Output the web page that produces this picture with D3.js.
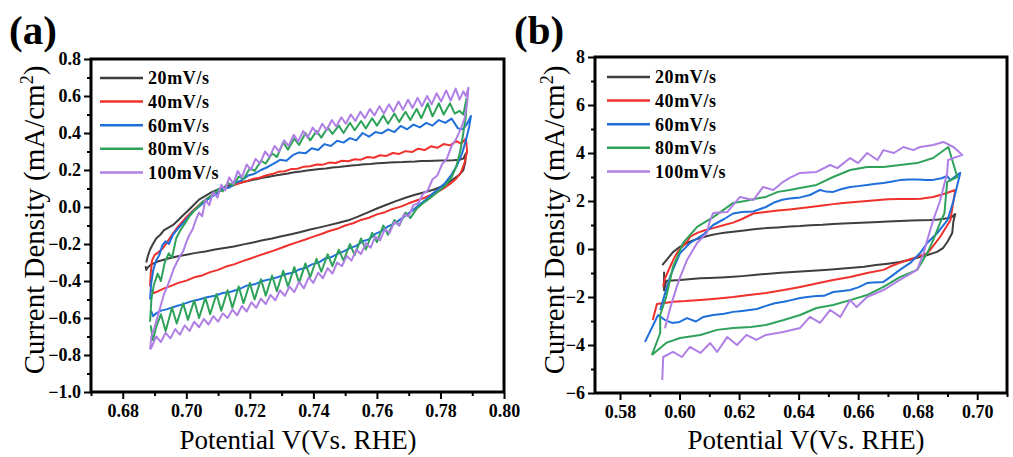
<!DOCTYPE html>
<html>
<head>
<meta charset="utf-8">
<script src="https://cdn.jsdelivr.net/npm/d3@7"></script>
<style>
  body { margin: 0; background: #fff; }
  svg { display: block; }
  text { font-family: "Liberation Serif", "Times New Roman", serif; fill: #000; }
</style>
</head>
<body>
<svg id="fig" width="1013" height="457"></svg>
<script>
// Scan-rate series shared by both panels
const seriesNames = ["20mV/s", "40mV/s", "60mV/s", "80mV/s", "100mV/s"];
const seriesColors = ["#3e3e3e", "#f0302c", "#1f6fdb", "#2fa25a", "#b07fe6"];

// Axis ticks
const aXTicks = [0.68, 0.70, 0.72, 0.74, 0.76, 0.78, 0.80];
const aXMinor = [0.67, 0.69, 0.71, 0.73, 0.75, 0.77, 0.79];
const aYTicks = [-1.0, -0.8, -0.6, -0.4, -0.2, 0.0, 0.2, 0.4, 0.6, 0.8];
const aYMinor = [-0.9, -0.7, -0.5, -0.3, -0.1, 0.1, 0.3, 0.5, 0.7];
const bXTicks = [0.58, 0.60, 0.62, 0.64, 0.66, 0.68, 0.70];
const bXMinor = [0.59, 0.61, 0.63, 0.65, 0.67, 0.69, 0.71];
const bYTicks = [-6, -4, -2, 0, 2, 4, 6, 8];
const bYMinor = [-5, -3, -1, 1, 3, 5, 7];

// Panel (a): cyclic voltammograms, [potential V, current density mA/cm2]
const a20 = [[0.6874,-0.300],[0.6878,-0.270],[0.6886,-0.230],[0.6895,-0.200],[0.6905,-0.170],[0.6918,-0.150],[0.6930,-0.125],[0.6945,-0.110],[0.6960,-0.095],[0.6975,-0.070],[0.6990,-0.045],[0.7005,-0.020],[0.7020,0.005],[0.7040,0.040],[0.7060,0.060],[0.7080,0.080],[0.7100,0.095],[0.7120,0.108],[0.7140,0.120],[0.7160,0.128],[0.7180,0.135],[0.7200,0.143],[0.7220,0.150],[0.7240,0.158],[0.7260,0.163],[0.7280,0.170],[0.7300,0.176],[0.7320,0.181],[0.7340,0.188],[0.7360,0.192],[0.7380,0.197],[0.7400,0.201],[0.7420,0.205],[0.7440,0.208],[0.7460,0.213],[0.7480,0.216],[0.7500,0.220],[0.7520,0.224],[0.7540,0.227],[0.7560,0.231],[0.7580,0.233],[0.7600,0.236],[0.7620,0.238],[0.7640,0.240],[0.7660,0.242],[0.7680,0.243],[0.7700,0.245],[0.7720,0.246],[0.7740,0.248],[0.7760,0.249],[0.7780,0.250],[0.7800,0.251],[0.7820,0.252],[0.7840,0.253],[0.7860,0.255],[0.7872,0.262],[0.7880,0.290],[0.7878,0.240],[0.7872,0.200],[0.7860,0.175],[0.7840,0.150],[0.7820,0.125],[0.7800,0.108],[0.7780,0.095],[0.7750,0.080],[0.7720,0.066],[0.7690,0.050],[0.7660,0.032],[0.7630,0.012],[0.7600,-0.008],[0.7570,-0.030],[0.7540,-0.052],[0.7510,-0.072],[0.7480,-0.085],[0.7450,-0.098],[0.7420,-0.110],[0.7390,-0.122],[0.7360,-0.135],[0.7330,-0.147],[0.7300,-0.158],[0.7270,-0.170],[0.7240,-0.180],[0.7210,-0.192],[0.7180,-0.202],[0.7150,-0.213],[0.7120,-0.222],[0.7090,-0.230],[0.7060,-0.240],[0.7030,-0.248],[0.7000,-0.258],[0.6970,-0.268],[0.6940,-0.280],[0.6910,-0.295],[0.6890,-0.310],[0.6878,-0.328],[0.6874,-0.340],[0.6872,-0.320]];

const a40 = [[0.6886,-0.430],[0.6888,-0.360],[0.6892,-0.290],[0.6900,-0.260],[0.6912,-0.245],[0.6925,-0.225],[0.6940,-0.190],[0.6955,-0.150],[0.6970,-0.115],[0.6985,-0.085],[0.7000,-0.055],[0.7015,-0.030],[0.7030,-0.005],[0.7050,0.025],[0.7070,0.050],[0.7090,0.070],[0.7110,0.090],[0.7130,0.105],[0.7150,0.118],[0.7170,0.130],[0.7190,0.140],[0.7210,0.152],[0.7230,0.158],[0.7250,0.170],[0.7270,0.178],[0.7290,0.190],[0.7310,0.193],[0.7330,0.205],[0.7350,0.207],[0.7370,0.218],[0.7390,0.220],[0.7410,0.230],[0.7430,0.229],[0.7450,0.240],[0.7470,0.238],[0.7490,0.250],[0.7510,0.247],[0.7530,0.258],[0.7550,0.256],[0.7570,0.270],[0.7590,0.266],[0.7610,0.280],[0.7630,0.276],[0.7650,0.292],[0.7670,0.287],[0.7690,0.302],[0.7710,0.297],[0.7730,0.315],[0.7750,0.308],[0.7770,0.328],[0.7790,0.320],[0.7810,0.340],[0.7830,0.333],[0.7850,0.356],[0.7865,0.342],[0.7880,0.370],[0.7884,0.300],[0.7876,0.240],[0.7864,0.185],[0.7848,0.150],[0.7830,0.125],[0.7810,0.100],[0.7790,0.080],[0.7770,0.065],[0.7750,0.050],[0.7725,0.035],[0.7700,0.020],[0.7675,0.002],[0.7650,-0.010],[0.7625,-0.028],[0.7600,-0.040],[0.7575,-0.058],[0.7550,-0.070],[0.7525,-0.088],[0.7500,-0.100],[0.7475,-0.118],[0.7450,-0.130],[0.7425,-0.146],[0.7400,-0.160],[0.7375,-0.176],[0.7350,-0.190],[0.7325,-0.204],[0.7300,-0.220],[0.7275,-0.236],[0.7250,-0.250],[0.7225,-0.264],[0.7200,-0.280],[0.7175,-0.294],[0.7150,-0.310],[0.7125,-0.322],[0.7100,-0.340],[0.7075,-0.352],[0.7050,-0.370],[0.7025,-0.380],[0.7000,-0.398],[0.6975,-0.410],[0.6950,-0.428],[0.6930,-0.440],[0.6912,-0.455],[0.6898,-0.465],[0.6889,-0.450]];

const a60 = [[0.6886,-0.500],[0.6889,-0.420],[0.6896,-0.340],[0.6905,-0.290],[0.6915,-0.260],[0.6925,-0.205],[0.6935,-0.185],[0.6945,-0.200],[0.6958,-0.150],[0.6972,-0.120],[0.6988,-0.090],[0.7003,-0.060],[0.7018,-0.030],[0.7035,-0.005],[0.7055,0.025],[0.7075,0.050],[0.7095,0.072],[0.7115,0.098],[0.7135,0.105],[0.7155,0.130],[0.7175,0.145],[0.7195,0.170],[0.7215,0.180],[0.7235,0.200],[0.7255,0.215],[0.7275,0.235],[0.7295,0.255],[0.7315,0.250],[0.7335,0.280],[0.7355,0.295],[0.7375,0.290],[0.7395,0.318],[0.7415,0.308],[0.7435,0.340],[0.7455,0.330],[0.7475,0.358],[0.7495,0.348],[0.7515,0.372],[0.7535,0.360],[0.7555,0.400],[0.7575,0.380],[0.7595,0.405],[0.7615,0.398],[0.7635,0.420],[0.7655,0.405],[0.7675,0.438],[0.7695,0.420],[0.7715,0.445],[0.7735,0.430],[0.7755,0.455],[0.7775,0.440],[0.7795,0.470],[0.7815,0.455],[0.7835,0.478],[0.7855,0.425],[0.7870,0.420],[0.7882,0.445],[0.7896,0.492],[0.7890,0.430],[0.7880,0.360],[0.7868,0.290],[0.7852,0.225],[0.7835,0.175],[0.7815,0.130],[0.7795,0.100],[0.7775,0.072],[0.7755,0.040],[0.7735,0.015],[0.7715,-0.015],[0.7695,-0.040],[0.7675,-0.065],[0.7655,-0.090],[0.7635,-0.105],[0.7615,-0.130],[0.7595,-0.145],[0.7575,-0.175],[0.7555,-0.185],[0.7535,-0.210],[0.7515,-0.222],[0.7495,-0.240],[0.7475,-0.255],[0.7455,-0.272],[0.7435,-0.280],[0.7415,-0.302],[0.7395,-0.310],[0.7375,-0.330],[0.7355,-0.338],[0.7335,-0.355],[0.7315,-0.362],[0.7290,-0.378],[0.7265,-0.390],[0.7240,-0.400],[0.7215,-0.418],[0.7190,-0.425],[0.7165,-0.445],[0.7140,-0.458],[0.7115,-0.465],[0.7090,-0.480],[0.7065,-0.488],[0.7040,-0.500],[0.7015,-0.510],[0.6990,-0.525],[0.6965,-0.538],[0.6940,-0.552],[0.6920,-0.560],[0.6905,-0.575],[0.6895,-0.590],[0.6889,-0.560]];

const a80 = [[0.6886,-0.620],[0.6890,-0.500],[0.6898,-0.420],[0.6910,-0.360],[0.6920,-0.400],[0.6932,-0.300],[0.6945,-0.250],[0.6955,-0.275],[0.6968,-0.170],[0.6980,-0.130],[0.6995,-0.090],[0.7010,-0.050],[0.7030,-0.010],[0.7050,0.025],[0.7068,0.050],[0.7085,0.070],[0.7100,0.095],[0.7115,0.085],[0.7130,0.130],[0.7148,0.115],[0.7165,0.165],[0.7180,0.150],[0.7200,0.210],[0.7215,0.195],[0.7235,0.250],[0.7250,0.235],[0.7270,0.290],[0.7285,0.270],[0.7305,0.350],[0.7320,0.310],[0.7340,0.370],[0.7355,0.335],[0.7375,0.400],[0.7390,0.360],[0.7410,0.410],[0.7425,0.375],[0.7445,0.430],[0.7460,0.395],[0.7480,0.440],[0.7495,0.400],[0.7515,0.455],[0.7530,0.415],[0.7550,0.465],[0.7565,0.425],[0.7585,0.480],[0.7600,0.440],[0.7620,0.495],[0.7635,0.450],[0.7655,0.505],[0.7670,0.460],[0.7690,0.515],[0.7705,0.470],[0.7725,0.530],[0.7740,0.480],[0.7760,0.560],[0.7775,0.490],[0.7795,0.560],[0.7810,0.500],[0.7830,0.560],[0.7845,0.505],[0.7860,0.520],[0.7872,0.500],[0.7882,0.585],[0.7880,0.490],[0.7872,0.400],[0.7862,0.300],[0.7850,0.220],[0.7835,0.160],[0.7815,0.115],[0.7790,0.080],[0.7765,0.045],[0.7745,0.020],[0.7725,-0.010],[0.7705,-0.060],[0.7690,-0.030],[0.7670,-0.100],[0.7655,-0.070],[0.7635,-0.150],[0.7620,-0.100],[0.7600,-0.190],[0.7585,-0.140],[0.7565,-0.230],[0.7550,-0.170],[0.7530,-0.260],[0.7515,-0.200],[0.7495,-0.290],[0.7480,-0.230],[0.7460,-0.320],[0.7445,-0.255],[0.7425,-0.350],[0.7410,-0.280],[0.7390,-0.380],[0.7375,-0.305],[0.7355,-0.410],[0.7340,-0.325],[0.7320,-0.430],[0.7305,-0.345],[0.7285,-0.455],[0.7270,-0.370],[0.7250,-0.480],[0.7235,-0.390],[0.7215,-0.500],[0.7200,-0.410],[0.7180,-0.520],[0.7165,-0.430],[0.7145,-0.545],[0.7130,-0.450],[0.7110,-0.560],[0.7095,-0.470],[0.7075,-0.580],[0.7060,-0.490],[0.7040,-0.600],[0.7025,-0.505],[0.7005,-0.610],[0.6990,-0.520],[0.6970,-0.630],[0.6955,-0.545],[0.6935,-0.670],[0.6920,-0.580],[0.6905,-0.650],[0.6895,-0.720],[0.6888,-0.640]];

const a100 = [[0.6886,-0.770],[0.6890,-0.700],[0.6900,-0.650],[0.6910,-0.590],[0.6920,-0.530],[0.6930,-0.470],[0.6940,-0.430],[0.6950,-0.385],[0.6960,-0.335],[0.6970,-0.300],[0.6980,-0.265],[0.6990,-0.240],[0.7000,-0.190],[0.7010,-0.150],[0.7020,-0.120],[0.7030,-0.070],[0.7040,-0.030],[0.7050,-0.050],[0.7060,0.040],[0.7072,0.010],[0.7085,0.080],[0.7098,0.050],[0.7110,0.120],[0.7122,0.090],[0.7135,0.160],[0.7148,0.125],[0.7162,0.195],[0.7175,0.160],[0.7190,0.230],[0.7203,0.200],[0.7218,0.260],[0.7232,0.235],[0.7248,0.300],[0.7262,0.270],[0.7278,0.330],[0.7292,0.300],[0.7308,0.360],[0.7322,0.330],[0.7338,0.390],[0.7352,0.355],[0.7368,0.410],[0.7382,0.375],[0.7398,0.430],[0.7412,0.395],[0.7428,0.450],[0.7442,0.415],[0.7458,0.470],[0.7472,0.435],[0.7488,0.485],[0.7502,0.450],[0.7518,0.500],[0.7532,0.465],[0.7548,0.515],[0.7562,0.480],[0.7578,0.530],[0.7592,0.495],[0.7608,0.545],[0.7622,0.505],[0.7638,0.555],[0.7652,0.515],[0.7668,0.570],[0.7682,0.525],[0.7698,0.580],[0.7712,0.535],[0.7728,0.590],[0.7742,0.545],[0.7758,0.600],[0.7772,0.555],[0.7788,0.615],[0.7802,0.570],[0.7818,0.630],[0.7832,0.575],[0.7848,0.640],[0.7860,0.580],[0.7872,0.625],[0.7880,0.600],[0.7888,0.645],[0.7884,0.560],[0.7876,0.480],[0.7866,0.430],[0.7850,0.370],[0.7835,0.330],[0.7820,0.260],[0.7805,0.230],[0.7790,0.170],[0.7775,0.150],[0.7760,0.090],[0.7745,0.070],[0.7730,0.020],[0.7715,0.010],[0.7700,-0.050],[0.7685,-0.040],[0.7670,-0.100],[0.7655,-0.080],[0.7640,-0.140],[0.7625,-0.120],[0.7610,-0.180],[0.7595,-0.160],[0.7580,-0.220],[0.7565,-0.195],[0.7550,-0.255],[0.7535,-0.230],[0.7520,-0.290],[0.7505,-0.265],[0.7490,-0.320],[0.7475,-0.300],[0.7460,-0.360],[0.7445,-0.330],[0.7430,-0.385],[0.7415,-0.355],[0.7400,-0.410],[0.7385,-0.380],[0.7370,-0.440],[0.7355,-0.405],[0.7340,-0.460],[0.7325,-0.430],[0.7310,-0.480],[0.7295,-0.450],[0.7280,-0.505],[0.7265,-0.475],[0.7250,-0.525],[0.7235,-0.495],[0.7220,-0.545],[0.7205,-0.515],[0.7190,-0.565],[0.7175,-0.535],[0.7160,-0.585],[0.7145,-0.555],[0.7130,-0.600],[0.7115,-0.575],[0.7100,-0.620],[0.7085,-0.590],[0.7070,-0.635],[0.7055,-0.605],[0.7040,-0.650],[0.7025,-0.620],[0.7010,-0.670],[0.6995,-0.640],[0.6980,-0.690],[0.6965,-0.660],[0.6950,-0.710],[0.6935,-0.680],[0.6920,-0.730],[0.6905,-0.700],[0.6890,-0.760],[0.6886,-0.770]];

// Panel (b): cyclic voltammograms, [potential V, current density mA/cm2]
const b20 = [[0.5942,-0.670],[0.5960,-0.400],[0.5978,-0.130],[0.6000,0.080],[0.6025,0.250],[0.6050,0.380],[0.6070,0.460],[0.6100,0.560],[0.6126,0.630],[0.6150,0.680],[0.6180,0.720],[0.6210,0.760],[0.6250,0.820],[0.6290,0.870],[0.6330,0.900],[0.6370,0.940],[0.6405,0.960],[0.6440,0.990],[0.6480,1.010],[0.6516,1.040],[0.6550,1.060],[0.6590,1.080],[0.6630,1.100],[0.6670,1.130],[0.6700,1.150],[0.6740,1.170],[0.6780,1.190],[0.6810,1.200],[0.6842,1.210],[0.6870,1.230],[0.6900,1.280],[0.6915,1.330],[0.6926,1.460],[0.6920,1.150],[0.6916,0.670],[0.6900,0.300],[0.6886,0.050],[0.6865,-0.120],[0.6830,-0.260],[0.6798,-0.370],[0.6770,-0.460],[0.6740,-0.540],[0.6700,-0.610],[0.6660,-0.670],[0.6620,-0.740],[0.6580,-0.780],[0.6540,-0.820],[0.6500,-0.860],[0.6460,-0.900],[0.6420,-0.930],[0.6380,-0.960],[0.6340,-0.990],[0.6290,-1.040],[0.6250,-1.080],[0.6210,-1.130],[0.6180,-1.160],[0.6140,-1.190],[0.6100,-1.210],[0.6070,-1.220],[0.6040,-1.250],[0.6002,-1.290],[0.5975,-1.310],[0.5955,-1.320],[0.5948,-1.720],[0.5948,-0.950]];

const b40 = [[0.5945,-1.580],[0.5950,-1.250],[0.5968,-0.750],[0.5985,-0.300],[0.5998,-0.040],[0.6025,0.290],[0.6035,0.500],[0.6059,0.670],[0.6085,0.780],[0.6113,0.870],[0.6150,1.000],[0.6180,1.100],[0.6210,1.250],[0.6248,1.480],[0.6290,1.540],[0.6330,1.600],[0.6370,1.650],[0.6405,1.700],[0.6440,1.750],[0.6480,1.810],[0.6516,1.870],[0.6550,1.920],[0.6590,1.960],[0.6630,2.000],[0.6670,2.040],[0.6700,2.070],[0.6740,2.080],[0.6780,2.080],[0.6810,2.090],[0.6852,2.170],[0.6890,2.300],[0.6926,2.460],[0.6910,1.200],[0.6875,0.500],[0.6842,-0.040],[0.6832,-0.170],[0.6798,-0.330],[0.6770,-0.450],[0.6740,-0.580],[0.6710,-0.720],[0.6685,-0.870],[0.6630,-1.000],[0.6573,-1.170],[0.6516,-1.290],[0.6460,-1.440],[0.6405,-1.580],[0.6350,-1.710],[0.6290,-1.830],[0.6240,-1.910],[0.6180,-2.000],[0.6130,-2.060],[0.6070,-2.120],[0.6020,-2.170],[0.5978,-2.200],[0.5950,-2.250],[0.5924,-2.290],[0.5910,-2.960]];

const b60 = [[0.5935,-2.540],[0.5950,-1.900],[0.5970,-1.100],[0.5990,-0.500],[0.6002,-0.170],[0.6035,0.250],[0.6080,0.600],[0.6113,1.000],[0.6150,1.250],[0.6180,1.480],[0.6210,1.540],[0.6248,1.560],[0.6290,1.750],[0.6320,1.950],[0.6345,2.050],[0.6370,2.100],[0.6405,2.150],[0.6438,2.250],[0.6472,2.460],[0.6490,2.400],[0.6516,2.380],[0.6545,2.500],[0.6573,2.580],[0.6600,2.620],[0.6630,2.670],[0.6660,2.720],[0.6685,2.750],[0.6710,2.800],[0.6740,2.870],[0.6770,2.900],[0.6798,2.900],[0.6830,2.880],[0.6852,2.880],[0.6880,2.950],[0.6899,3.040],[0.6910,2.870],[0.6943,3.170],[0.6920,2.000],[0.6900,1.200],[0.6866,0.670],[0.6832,0.250],[0.6808,-0.170],[0.6775,-0.580],[0.6740,-0.870],[0.6710,-1.150],[0.6685,-1.370],[0.6650,-1.400],[0.6630,-1.420],[0.6600,-1.600],[0.6573,-1.710],[0.6540,-1.760],[0.6516,-1.790],[0.6485,-1.950],[0.6460,-1.960],[0.6430,-2.000],[0.6405,-2.040],[0.6375,-2.130],[0.6350,-2.200],[0.6320,-2.260],[0.6290,-2.370],[0.6260,-2.500],[0.6235,-2.540],[0.6210,-2.580],[0.6180,-2.620],[0.6150,-2.700],[0.6113,-2.750],[0.6080,-2.830],[0.6055,-3.020],[0.6025,-2.880],[0.6000,-3.040],[0.5975,-3.080],[0.5950,-2.950],[0.5928,-2.750],[0.5884,-3.870]];

const b80 = [[0.5907,-4.420],[0.5935,-3.500],[0.5935,-2.750],[0.5955,-2.000],[0.5978,-0.750],[0.6012,0.250],[0.6059,0.920],[0.6113,1.330],[0.6150,1.650],[0.6180,1.920],[0.6220,2.000],[0.6250,2.080],[0.6290,2.170],[0.6330,2.380],[0.6370,2.460],[0.6405,2.540],[0.6460,2.670],[0.6516,3.000],[0.6573,3.290],[0.6630,3.420],[0.6685,3.420],[0.6740,3.500],[0.6798,3.580],[0.6852,3.790],[0.6903,4.250],[0.6933,3.000],[0.6899,2.800],[0.6890,1.500],[0.6875,1.080],[0.6852,0.370],[0.6832,-0.170],[0.6798,-0.870],[0.6740,-1.170],[0.6685,-1.580],[0.6630,-1.920],[0.6573,-2.130],[0.6516,-2.330],[0.6460,-2.460],[0.6405,-2.750],[0.6350,-2.960],[0.6290,-3.170],[0.6240,-3.250],[0.6180,-3.290],[0.6126,-3.370],[0.6070,-3.580],[0.6002,-3.710],[0.5957,-3.900],[0.5907,-4.420]];

const b100 = [[0.5951,-3.300],[0.5970,-2.400],[0.5990,-1.600],[0.6002,-1.170],[0.6025,-0.460],[0.6059,0.250],[0.6092,0.670],[0.6100,1.100],[0.6113,1.500],[0.6160,1.540],[0.6203,2.170],[0.6248,2.040],[0.6280,2.580],[0.6315,2.460],[0.6348,2.800],[0.6370,2.960],[0.6405,3.170],[0.6460,3.210],[0.6506,3.500],[0.6530,3.370],[0.6573,3.790],[0.6600,3.580],[0.6630,4.000],[0.6665,3.710],[0.6685,4.120],[0.6720,4.000],[0.6752,4.250],[0.6785,4.120],[0.6808,4.250],[0.6852,4.330],[0.6886,4.460],[0.6920,4.250],[0.6950,3.920],[0.6902,3.710],[0.6899,3.170],[0.6875,2.000],[0.6852,1.200],[0.6832,0.370],[0.6820,-0.170],[0.6798,-0.870],[0.6740,-1.290],[0.6685,-1.710],[0.6630,-2.000],[0.6595,-2.420],[0.6573,-2.130],[0.6540,-2.830],[0.6506,-2.540],[0.6472,-3.080],[0.6438,-2.830],[0.6405,-3.290],[0.6348,-3.460],[0.6290,-3.580],[0.6258,-3.790],[0.6225,-3.580],[0.6193,-4.000],[0.6160,-3.670],[0.6126,-4.290],[0.6103,-3.920],[0.6070,-4.330],[0.6035,-4.080],[0.6008,-4.500],[0.5978,-4.290],[0.5945,-4.500],[0.5942,-5.460]];

const xTitle = "Potential V(Vs. RHE)";
const SERIF = "'Liberation Serif', 'Times New Roman', serif";

const panels = [
  { label: "(a)", labelX: 9, series: [a20, a40, a60, a80, a100],
    xDomain: [0.67, 0.80], xRange: [91, 504], yDomain: [-1.0, 0.8], yRange: [392, 59],
    xTicks: aXTicks, xMinor: aXMinor, yTicks: aYTicks, yMinor: aYMinor,
    xFmt: d3.format(".2f"), yFmt: d3.format(".1f"),
    legendX: 100, legendY: 78, yTitleX: 44, xTitleX: 298 },
  { label: "(b)", labelX: 514, series: [b20, b40, b60, b80, b100],
    xDomain: [0.5716, 0.71], xRange: [595, 1007], yDomain: [-6, 8], yRange: [393, 57],
    xTicks: bXTicks, xMinor: bXMinor, yTicks: bYTicks, yMinor: bYMinor,
    xFmt: d3.format(".2f"), yFmt: d3.format("d"),
    legendX: 607, legendY: 77, yTitleX: 564, xTitleX: 806 }
];

const svg = d3.select("#fig");

panels.forEach(p => {
  const x = d3.scaleLinear().domain(p.xDomain).range(p.xRange);
  const y = d3.scaleLinear().domain(p.yDomain).range(p.yRange);
  const g = svg.append("g");

  // data curves
  const line = d3.line().x(d => x(d[0])).y(d => y(d[1]));
  p.series.forEach((s, i) => {
    g.append("path").datum(s)
      .attr("d", line)
      .attr("fill", "none")
      .attr("stroke", seriesColors[i])
      .attr("stroke-width", 2)
      .attr("stroke-linejoin", "round");
  });

  // frame
  g.append("rect")
    .attr("x", p.xRange[0]).attr("y", p.yRange[1])
    .attr("width", p.xRange[1] - p.xRange[0])
    .attr("height", p.yRange[0] - p.yRange[1])
    .attr("fill", "none").attr("stroke", "#000").attr("stroke-width", 3);

  // axes: major + minor ticks
  const styleAxis = sel => {
    sel.select(".domain").remove();
    sel.selectAll("line").attr("stroke", "#000").attr("stroke-width", 2);
    sel.selectAll("text")
      .style("font-family", SERIF)
      .style("font-size", "18px")
      .style("font-weight", "bold");
  };
  g.append("g").attr("transform", `translate(0,${p.yRange[0] + 1})`)
    .call(d3.axisBottom(x).tickValues(p.xTicks).tickSize(6).tickPadding(5).tickFormat(p.xFmt))
    .call(styleAxis);
  g.append("g").attr("transform", `translate(0,${p.yRange[0] + 1})`)
    .call(d3.axisBottom(x).tickValues(p.xMinor).tickSize(3).tickFormat(""))
    .call(styleAxis);
  g.append("g").attr("transform", `translate(${p.xRange[0] - 1},0)`)
    .call(d3.axisLeft(y).tickValues(p.yTicks).tickSize(6).tickPadding(3).tickFormat(p.yFmt))
    .call(styleAxis);
  g.append("g").attr("transform", `translate(${p.xRange[0] - 1},0)`)
    .call(d3.axisLeft(y).tickValues(p.yMinor).tickSize(3).tickFormat(""))
    .call(styleAxis);

  // legend
  const lg = g.append("g");
  seriesNames.forEach((name, i) => {
    const ly = p.legendY + i * 23.6;
    lg.append("line")
      .attr("x1", p.legendX).attr("x2", p.legendX + 43)
      .attr("y1", ly).attr("y2", ly)
      .attr("stroke", seriesColors[i]).attr("stroke-width", 2.5);
    lg.append("text")
      .attr("x", p.legendX + 48).attr("y", ly).attr("dy", "0.35em")
      .style("font-family", SERIF).style("font-size", "18px").style("font-weight", "bold")
      .attr("letter-spacing", "0.6px")
      .text(name);
  });

  // panel label
  g.append("text").attr("x", p.labelX).attr("y", 44)
    .style("font-family", SERIF).style("font-size", "41px").style("font-weight", "bold")
    .text(p.label);

  // axis titles
  g.append("text").attr("x", p.xTitleX).attr("y", 449)
    .attr("text-anchor", "middle")
    .style("font-family", SERIF).style("font-size", "27px")
    .text(xTitle);

  const yt = g.append("text")
    .attr("transform", `translate(${p.yTitleX},220) rotate(-90)`)
    .attr("text-anchor", "middle")
    .style("font-family", SERIF).style("font-size", "29px");
  yt.append("tspan").text("Current Density (mA/cm");
  yt.append("tspan").style("font-size", "18px").attr("dy", -11).text("2");
  yt.append("tspan").attr("dy", 11).text(")");
});
</script>
</body>
</html>
